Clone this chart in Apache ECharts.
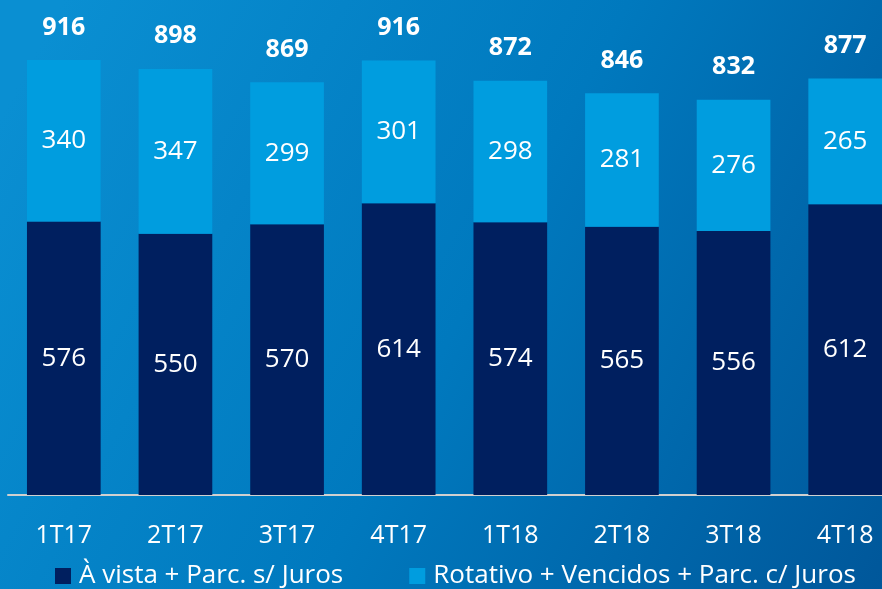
<!DOCTYPE html>
<html>
<head>
<meta charset="utf-8">
<script src="https://cdn.jsdelivr.net/npm/echarts@6/dist/echarts.min.js"></script>
<style>html,body{margin:0;padding:0;background:#0078bd;}#c{width:882px;height:589px;}</style>
</head>
<body>
<div id="c"></div>
<script>
const categories = ['1T17','2T17','3T17','4T17','1T18','2T18','3T18','4T18'];
const seriesNames = ['À vista + Parc. s/ Juros','Rotativo + Vencidos + Parc. c/ Juros'];
const aVista = [576,550,570,614,574,565,556,612];
const rotativo = [340,347,299,301,298,281,276,265];
const totals = [916,898,869,916,872,846,832,877];

const FONT = 'Open Sans';
const chart = echarts.init(document.getElementById('c'));
chart.setOption({
  animation: false,
  backgroundColor: {
    type: 'linear', x: 0, y: 0.2, x2: 1, y2: 1,
    colorStops: [
      {offset: 0, color: '#0a8fd2'},
      {offset: 0.5, color: '#0079be'},
      {offset: 1, color: '#00579a'}
    ]
  },
  textStyle: {fontFamily: FONT},
  grid: {left: 8, width: 893, top: 20, height: 475, outerBoundsMode: 'none', containLabel: false},
  legend: {
    data: seriesNames,
    left: 55, top: 563, padding: 0,
    itemWidth: 16, itemHeight: 16, itemGap: 66,
    icon: 'rect',
    textStyle: {color: '#ffffff', fontSize: 26, fontFamily: FONT, padding: [0,0,0,3]}
  },
  xAxis: {
    type: 'category', data: categories,
    axisLine: {lineStyle: {color: '#d0d0d0', width: 2}},
    axisTick: {show: false},
    axisLabel: {color: '#ffffff', fontSize: 25, fontFamily: FONT, margin: 28}
  },
  yAxis: {type: 'value', min: 0, max: 1000, show: false, splitLine: {show: false}},
  series: [
    {
      name: seriesNames[0], type: 'bar', stack: 'a', data: aVista,
      barCategoryGap: '34%',
      itemStyle: {color: '#001f5f'},
      label: {show: true, position: 'inside', color: '#ffffff', fontSize: 26, fontFamily: FONT}
    },
    {
      name: seriesNames[1], type: 'bar', stack: 'a', data: rotativo,
      barCategoryGap: '34%',
      itemStyle: {color: '#009ddf'},
      label: {show: true, position: 'inside', color: '#ffffff', fontSize: 26, fontFamily: FONT}
    },
    {
      name: 'Total', type: 'bar', data: totals, barGap: '-100%',
      barCategoryGap: '34%', silent: true, z: 1,
      itemStyle: {color: 'rgba(0,0,0,0)'},
      label: {show: true, position: 'top', distance: 20, color: '#ffffff', fontSize: 25, fontWeight: 'bold', fontFamily: FONT}
    }
  ]
});
</script>
</body>
</html>
